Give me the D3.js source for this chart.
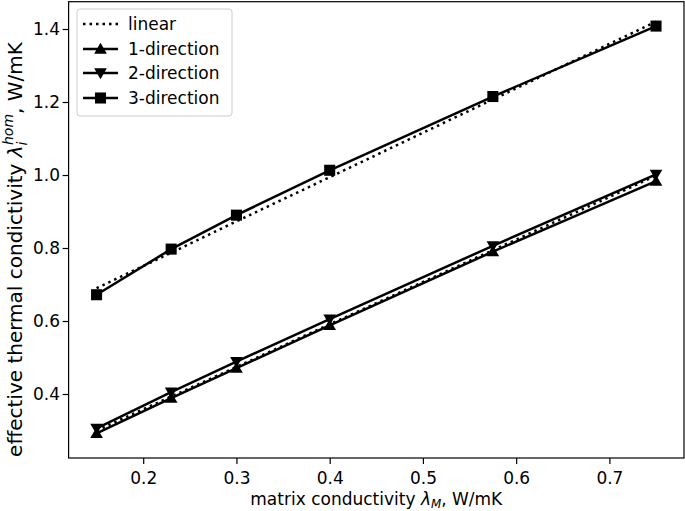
<!DOCTYPE html>
<html><head><meta charset="utf-8">
<script src="https://cdn.jsdelivr.net/npm/d3@7"></script>
<style>body{margin:0;background:#fff}svg{display:block}text{font-family:"DejaVu Sans",sans-serif;fill:#000}</style>
</head><body><svg id="c" width="685" height="511"></svg>
<script>
const xValues = [0.15, 0.23, 0.3, 0.4, 0.575, 0.75];
const linearLow = [0.300, 0.393, 0.474, 0.591, 0.794, 0.998];
const linearHigh = [0.690, 0.787, 0.873, 0.994, 1.207, 1.420];
const dir1 = [0.292, 0.389, 0.471, 0.588, 0.790, 0.983];
const dir2 = [0.306, 0.405, 0.489, 0.605, 0.806, 1.002];
const dir3 = [0.672, 0.797, 0.890, 1.013, 1.215, 1.408];
const xTicks = [0.2, 0.3, 0.4, 0.5, 0.6, 0.7];
const yTicks = [0.4, 0.6, 0.8, 1.0, 1.2, 1.4];
const legendLabels = ["linear", "1-direction", "2-direction", "3-direction"];

const svg = d3.select("#c");
const L = 68.6, R = 684, T = 1.7, B = 458;
const x = d3.scaleLinear().domain([0.12, 0.78]).range([L, R]);
const y = d3.scaleLinear().domain([0.2247, 1.4748]).range([B, T]);
const fs = 17, fsY = 20;
const lw = 2.5, dash = "2.5,4";

// axes
const gx = svg.append("g").attr("transform", `translate(0,${B})`)
  .call(d3.axisBottom(x).tickValues(xTicks).tickFormat(d3.format(".1f")).tickSize(6).tickPadding(8));
const gy = svg.append("g").attr("transform", `translate(${L},0)`)
  .call(d3.axisLeft(y).tickValues(yTicks).tickFormat(d3.format(".1f")).tickSize(6).tickPadding(2.5));
[gx, gy].forEach(g => {
  g.select(".domain").remove();
  g.selectAll("line").attr("stroke", "#000").attr("stroke-width", 1.2);
  g.selectAll("text").attr("font-size", fs).attr("font-family", "DejaVu Sans");
});

const line = d3.line().x(d => x(d[0])).y(d => y(d[1]));
const pts = arr => xValues.map((v, i) => [v, arr[i]]);

const plot = svg.append("g");
[linearLow, linearHigh].forEach(arr => {
  plot.append("path").attr("d", line(pts(arr))).attr("fill", "none")
    .attr("stroke", "#000").attr("stroke-width", lw).attr("stroke-dasharray", dash);
});

const ms = 12;
const markers = {
  up: d3.symbol().type(d3.symbolTriangle).size(ms * ms * 0.48),
  down: d3.symbol().type(d3.symbolTriangle).size(ms * ms * 0.48),
  sq: d3.symbol().type(d3.symbolSquare).size(ms * ms * 0.85)
};
const series = [[dir1, "up", 0], [dir2, "down", 180], [dir3, "sq", 0]];
series.forEach(([arr, m, rot]) => {
  plot.append("path").attr("d", line(pts(arr))).attr("fill", "none")
    .attr("stroke", "#000").attr("stroke-width", lw);
  plot.selectAll(null).data(pts(arr)).enter().append("path")
    .attr("d", markers[m])
    .attr("transform", d => `translate(${x(d[0])},${y(d[1]) + (m === "up" ? 1 : m === "down" ? -1 : 0)}) rotate(${rot})`)
    .attr("fill", "#000");
});

// frame
svg.append("rect").attr("x", L).attr("y", T).attr("width", R - L).attr("height", B - T)
  .attr("fill", "none").attr("stroke", "#000").attr("stroke-width", 1.2);

// legend
const lg = svg.append("g");
lg.append("rect").attr("x", 77).attr("y", 9).attr("width", 155).attr("height", 107).attr("rx", 3)
  .attr("fill", "#fff").attr("fill-opacity", 0.8).attr("stroke", "#ccc").attr("stroke-width", 1);
const legendY = [24, 49, 73, 98];
legendLabels.forEach((lab, i) => {
  const yy = legendY[i];
  const l = lg.append("line").attr("x1", 83).attr("x2", 118).attr("y1", yy).attr("y2", yy)
    .attr("stroke", "#000").attr("stroke-width", lw);
  if (i === 0) l.attr("stroke-dasharray", dash);
  else {
    const m = series[i - 1][1], rot = series[i - 1][2];
    lg.append("path").attr("d", markers[m])
      .attr("transform", `translate(100.5,${yy + (m === "up" ? 1 : m === "down" ? -1 : 0)}) rotate(${rot})`);
  }
  lg.append("text").attr("x", 128).attr("y", yy).attr("dy", "0.35em").attr("font-size", fs).text(lab);
});

// axis labels
const xl = svg.append("text").attr("x", (L + R) / 2).attr("y", 505).attr("text-anchor", "middle").attr("font-size", fs);
xl.append("tspan").text("matrix conductivity ");
xl.append("tspan").attr("font-style", "italic").text("λ");
xl.append("tspan").attr("font-style", "italic").attr("font-size", fs * 0.7).attr("dy", 3).text("M");
xl.append("tspan").attr("dy", -3).text(", W/mK");

const yl = svg.append("text").attr("transform", "translate(22,249.5) rotate(-90)").attr("text-anchor", "middle").attr("font-size", fsY);
yl.append("tspan").text("effective thermal condictivity ");
yl.append("tspan").attr("font-style", "italic").text("λ");
yl.append("tspan").attr("font-style", "italic").attr("font-size", fsY * 0.7).attr("dy", 4.5).text("i");
yl.append("tspan").attr("font-style", "italic").attr("font-size", fsY * 0.7).attr("dx", -3.5).attr("dy", -14).text("hom");
yl.append("tspan").attr("dy", 9.5).text(", W/mK");
</script></body></html>
